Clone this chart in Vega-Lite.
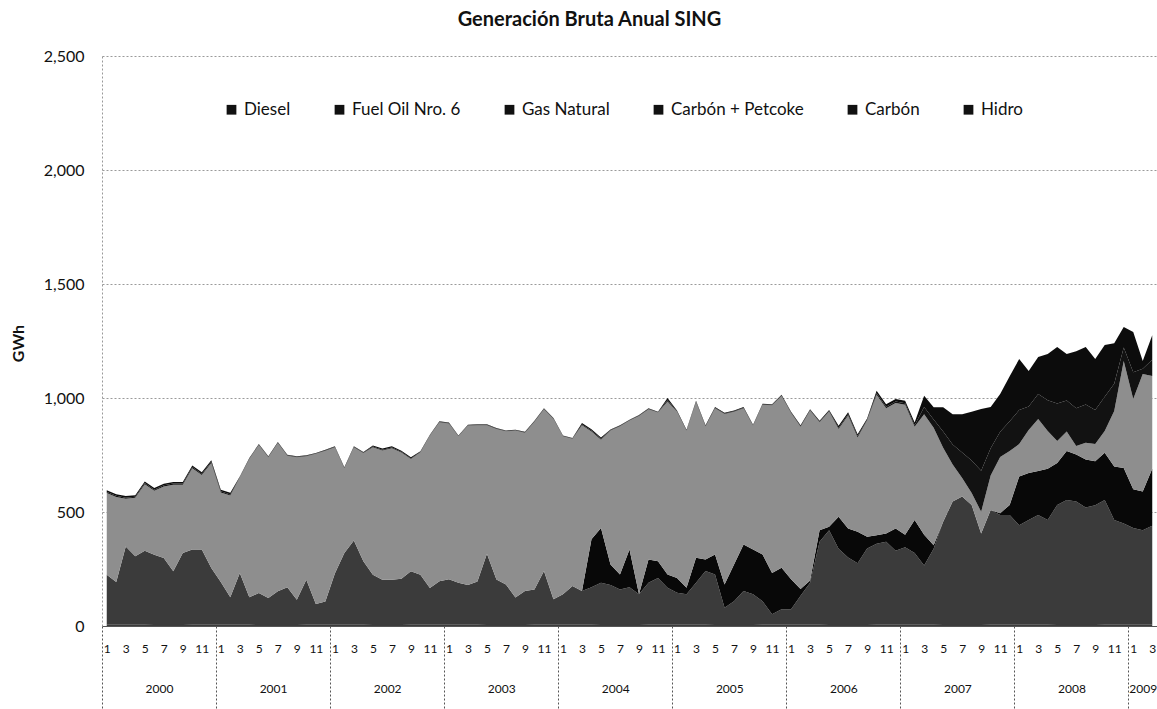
{
  "$schema": "https://vega.github.io/schema/vega-lite/v6.json",
  "autosize": "none",
  "width": 1055,
  "height": 570,
  "padding": {"left": 102, "top": 56, "right": 0, "bottom": 83},
  "background": "white",
  "config": {"font": "Lato", "view": {"stroke": null}},
  "title": {"text": "Generación Bruta Anual SING", "fontSize": 20, "fontWeight": "bold", "font": "Lato", "color": "#111", "dx": -40, "offset": 18},
  "data": {"values": [
    {"i":0,"hidro":6,"carbon":219,"petcoke":0,"gas":358,"fueloil":5,"diesel":7},
    {"i":1,"hidro":6,"carbon":187,"petcoke":0,"gas":373,"fueloil":5,"diesel":7},
    {"i":2,"hidro":5,"carbon":344,"petcoke":0,"gas":209,"fueloil":5,"diesel":7},
    {"i":3,"hidro":5,"carbon":301,"petcoke":0,"gas":256,"fueloil":5,"diesel":7},
    {"i":4,"hidro":5,"carbon":325,"petcoke":0,"gas":292,"fueloil":5,"diesel":7},
    {"i":5,"hidro":4,"carbon":309,"petcoke":0,"gas":280,"fueloil":5,"diesel":7},
    {"i":6,"hidro":4,"carbon":294,"petcoke":0,"gas":314,"fueloil":5,"diesel":7},
    {"i":7,"hidro":4,"carbon":236,"petcoke":0,"gas":380,"fueloil":5,"diesel":7},
    {"i":8,"hidro":4,"carbon":316,"petcoke":0,"gas":300,"fueloil":5,"diesel":7},
    {"i":9,"hidro":5,"carbon":330,"petcoke":0,"gas":357,"fueloil":5,"diesel":7},
    {"i":10,"hidro":5,"carbon":330,"petcoke":0,"gas":327,"fueloil":5,"diesel":7},
    {"i":11,"hidro":6,"carbon":248,"petcoke":0,"gas":461,"fueloil":5,"diesel":7},
    {"i":12,"hidro":6,"carbon":187,"petcoke":0,"gas":393,"fueloil":5,"diesel":7},
    {"i":13,"hidro":6,"carbon":120,"petcoke":0,"gas":446,"fueloil":5,"diesel":7},
    {"i":14,"hidro":5,"carbon":227,"petcoke":0,"gas":420,"fueloil":2,"diesel":2},
    {"i":15,"hidro":5,"carbon":121,"petcoke":0,"gas":607,"fueloil":2,"diesel":2},
    {"i":16,"hidro":4,"carbon":141,"petcoke":0,"gas":649,"fueloil":2,"diesel":2},
    {"i":17,"hidro":4,"carbon":119,"petcoke":0,"gas":617,"fueloil":2,"diesel":2},
    {"i":18,"hidro":4,"carbon":148,"petcoke":0,"gas":651,"fueloil":2,"diesel":2},
    {"i":19,"hidro":4,"carbon":166,"petcoke":0,"gas":577,"fueloil":2,"diesel":2},
    {"i":20,"hidro":4,"carbon":111,"petcoke":0,"gas":625,"fueloil":2,"diesel":2},
    {"i":21,"hidro":5,"carbon":198,"petcoke":0,"gas":542,"fueloil":2,"diesel":2},
    {"i":22,"hidro":5,"carbon":91,"petcoke":0,"gas":659,"fueloil":2,"diesel":2},
    {"i":23,"hidro":6,"carbon":102,"petcoke":0,"gas":661,"fueloil":2,"diesel":2},
    {"i":24,"hidro":6,"carbon":224,"petcoke":0,"gas":554,"fueloil":2,"diesel":2},
    {"i":25,"hidro":6,"carbon":314,"petcoke":0,"gas":372,"fueloil":2,"diesel":2},
    {"i":26,"hidro":5,"carbon":370,"petcoke":0,"gas":409,"fueloil":2,"diesel":2},
    {"i":27,"hidro":5,"carbon":279,"petcoke":0,"gas":475,"fueloil":2,"diesel":2},
    {"i":28,"hidro":4,"carbon":221,"petcoke":0,"gas":559,"fueloil":3,"diesel":5},
    {"i":29,"hidro":4,"carbon":199,"petcoke":0,"gas":567,"fueloil":3,"diesel":5},
    {"i":30,"hidro":4,"carbon":199,"petcoke":0,"gas":577,"fueloil":3,"diesel":5},
    {"i":31,"hidro":4,"carbon":203,"petcoke":0,"gas":554,"fueloil":3,"diesel":5},
    {"i":32,"hidro":5,"carbon":235,"petcoke":0,"gas":492,"fueloil":3,"diesel":5},
    {"i":33,"hidro":5,"carbon":220,"petcoke":0,"gas":537,"fueloil":2,"diesel":2},
    {"i":34,"hidro":5,"carbon":162,"petcoke":0,"gas":668,"fueloil":2,"diesel":2},
    {"i":35,"hidro":6,"carbon":190,"petcoke":0,"gas":698,"fueloil":2,"diesel":2},
    {"i":36,"hidro":6,"carbon":199,"petcoke":0,"gas":683,"fueloil":2,"diesel":2},
    {"i":37,"hidro":6,"carbon":184,"petcoke":0,"gas":642,"fueloil":2,"diesel":2},
    {"i":38,"hidro":5,"carbon":175,"petcoke":0,"gas":699,"fueloil":2,"diesel":2},
    {"i":39,"hidro":5,"carbon":190,"petcoke":0,"gas":686,"fueloil":2,"diesel":2},
    {"i":40,"hidro":4,"carbon":313,"petcoke":0,"gas":564,"fueloil":2,"diesel":2},
    {"i":41,"hidro":4,"carbon":200,"petcoke":0,"gas":660,"fueloil":2,"diesel":2},
    {"i":42,"hidro":4,"carbon":178,"petcoke":0,"gas":672,"fueloil":2,"diesel":2},
    {"i":43,"hidro":4,"carbon":121,"petcoke":0,"gas":732,"fueloil":2,"diesel":2},
    {"i":44,"hidro":4,"carbon":149,"petcoke":0,"gas":695,"fueloil":2,"diesel":2},
    {"i":45,"hidro":5,"carbon":155,"petcoke":0,"gas":736,"fueloil":2,"diesel":2},
    {"i":46,"hidro":5,"carbon":236,"petcoke":0,"gas":710,"fueloil":2,"diesel":2},
    {"i":47,"hidro":6,"carbon":111,"petcoke":0,"gas":791,"fueloil":2,"diesel":2},
    {"i":48,"hidro":6,"carbon":133,"petcoke":0,"gas":693,"fueloil":2,"diesel":2},
    {"i":49,"hidro":6,"carbon":169,"petcoke":0,"gas":646,"fueloil":2,"diesel":2},
    {"i":50,"hidro":5,"carbon":148,"petcoke":0,"gas":727,"fueloil":4,"diesel":6},
    {"i":51,"hidro":5,"carbon":165,"petcoke":210,"gas":473,"fueloil":4,"diesel":6},
    {"i":52,"hidro":4,"carbon":186,"petcoke":240,"gas":387,"fueloil":4,"diesel":6},
    {"i":53,"hidro":4,"carbon":176,"petcoke":90,"gas":588,"fueloil":2,"diesel":2},
    {"i":54,"hidro":4,"carbon":156,"petcoke":66,"gas":650,"fueloil":2,"diesel":2},
    {"i":55,"hidro":4,"carbon":166,"petcoke":166,"gas":565,"fueloil":2,"diesel":2},
    {"i":56,"hidro":4,"carbon":135,"petcoke":0,"gas":782,"fueloil":2,"diesel":2},
    {"i":57,"hidro":5,"carbon":185,"petcoke":102,"gas":659,"fueloil":2,"diesel":2},
    {"i":58,"hidro":5,"carbon":206,"petcoke":73,"gas":652,"fueloil":2,"diesel":2},
    {"i":59,"hidro":6,"carbon":162,"petcoke":58,"gas":759,"fueloil":6,"diesel":9},
    {"i":60,"hidro":6,"carbon":140,"petcoke":65,"gas":729,"fueloil":2,"diesel":3},
    {"i":61,"hidro":6,"carbon":133,"petcoke":29,"gas":688,"fueloil":2,"diesel":3},
    {"i":62,"hidro":5,"carbon":185,"petcoke":109,"gas":684,"fueloil":2,"diesel":3},
    {"i":63,"hidro":5,"carbon":236,"petcoke":51,"gas":583,"fueloil":2,"diesel":3},
    {"i":64,"hidro":4,"carbon":222,"petcoke":88,"gas":641,"fueloil":2,"diesel":3},
    {"i":65,"hidro":4,"carbon":76,"petcoke":102,"gas":748,"fueloil":2,"diesel":3},
    {"i":66,"hidro":4,"carbon":105,"petcoke":161,"gas":670,"fueloil":2,"diesel":3},
    {"i":67,"hidro":4,"carbon":149,"petcoke":204,"gas":598,"fueloil":2,"diesel":3},
    {"i":68,"hidro":4,"carbon":135,"petcoke":197,"gas":542,"fueloil":2,"diesel":3},
    {"i":69,"hidro":5,"carbon":104,"petcoke":205,"gas":656,"fueloil":2,"diesel":3},
    {"i":70,"hidro":5,"carbon":46,"petcoke":182,"gas":735,"fueloil":2,"diesel":3},
    {"i":71,"hidro":6,"carbon":67,"petcoke":182,"gas":754,"fueloil":2,"diesel":3},
    {"i":72,"hidro":6,"carbon":68,"petcoke":131,"gas":729,"fueloil":2,"diesel":4},
    {"i":73,"hidro":6,"carbon":127,"petcoke":29,"gas":712,"fueloil":2,"diesel":4},
    {"i":74,"hidro":5,"carbon":185,"petcoke":10,"gas":745,"fueloil":2,"diesel":4},
    {"i":75,"hidro":5,"carbon":364,"petcoke":51,"gas":474,"fueloil":2,"diesel":4},
    {"i":76,"hidro":4,"carbon":416,"petcoke":15,"gas":506,"fueloil":2,"diesel":4},
    {"i":77,"hidro":4,"carbon":335,"petcoke":140,"gas":385,"fueloil":6,"diesel":8},
    {"i":78,"hidro":4,"carbon":296,"petcoke":128,"gas":495,"fueloil":6,"diesel":8},
    {"i":79,"hidro":4,"carbon":271,"petcoke":138,"gas":414,"fueloil":6,"diesel":8},
    {"i":80,"hidro":4,"carbon":336,"petcoke":51,"gas":511,"fueloil":3,"diesel":5},
    {"i":81,"hidro":5,"carbon":356,"petcoke":37,"gas":616,"fueloil":7,"diesel":11},
    {"i":82,"hidro":5,"carbon":365,"petcoke":36,"gas":549,"fueloil":7,"diesel":11},
    {"i":83,"hidro":6,"carbon":324,"petcoke":98,"gas":550,"fueloil":7,"diesel":11},
    {"i":84,"hidro":6,"carbon":339,"petcoke":55,"gas":570,"fueloil":7,"diesel":11},
    {"i":85,"hidro":6,"carbon":314,"petcoke":145,"gas":409,"fueloil":7,"diesel":11},
    {"i":86,"hidro":5,"carbon":260,"petcoke":135,"gas":529,"fueloil":32,"diesel":49},
    {"i":87,"hidro":5,"carbon":334,"petcoke":15,"gas":516,"fueloil":36,"diesel":53},
    {"i":88,"hidro":4,"carbon":453,"petcoke":0,"gas":325,"fueloil":71,"diesel":106},
    {"i":89,"hidro":4,"carbon":542,"petcoke":0,"gas":162,"fueloil":88,"diesel":133},
    {"i":90,"hidro":4,"carbon":564,"petcoke":0,"gas":81,"fueloil":112,"diesel":168},
    {"i":91,"hidro":4,"carbon":527,"petcoke":0,"gas":52,"fueloil":143,"diesel":214},
    {"i":92,"hidro":4,"carbon":402,"petcoke":0,"gas":95,"fueloil":180,"diesel":271},
    {"i":93,"hidro":5,"carbon":504,"petcoke":0,"gas":151,"fueloil":120,"diesel":180},
    {"i":94,"hidro":5,"carbon":482,"petcoke":8,"gas":246,"fueloil":111,"diesel":166},
    {"i":95,"hidro":6,"carbon":481,"petcoke":44,"gas":236,"fueloil":131,"diesel":197},
    {"i":96,"hidro":6,"carbon":436,"petcoke":214,"gas":142,"fueloil":149,"diesel":224},
    {"i":97,"hidro":6,"carbon":459,"petcoke":206,"gas":189,"fueloil":103,"diesel":155},
    {"i":98,"hidro":5,"carbon":482,"petcoke":193,"gas":228,"fueloil":109,"diesel":163},
    {"i":99,"hidro":5,"carbon":460,"petcoke":225,"gas":165,"fueloil":135,"diesel":203},
    {"i":100,"hidro":4,"carbon":527,"petcoke":184,"gas":96,"fueloil":165,"diesel":248},
    {"i":101,"hidro":4,"carbon":549,"petcoke":214,"gas":86,"fueloil":136,"diesel":204},
    {"i":102,"hidro":4,"carbon":542,"petcoke":206,"gas":37,"fueloil":166,"diesel":250},
    {"i":103,"hidro":4,"carbon":516,"petcoke":210,"gas":74,"fueloil":168,"diesel":252},
    {"i":104,"hidro":4,"carbon":526,"petcoke":193,"gas":75,"fueloil":149,"diesel":224},
    {"i":105,"hidro":5,"carbon":548,"petcoke":207,"gas":95,"fueloil":151,"diesel":227},
    {"i":106,"hidro":5,"carbon":460,"petcoke":235,"gas":243,"fueloil":119,"diesel":178},
    {"i":107,"hidro":6,"carbon":444,"petcoke":243,"gas":469,"fueloil":60,"diesel":89},
    {"i":108,"hidro":6,"carbon":424,"petcoke":170,"gas":396,"fueloil":117,"diesel":176},
    {"i":109,"hidro":6,"carbon":414,"petcoke":170,"gas":515,"fueloil":23,"diesel":34},
    {"i":110,"hidro":5,"carbon":435,"petcoke":250,"gas":406,"fueloil":72,"diesel":107}
  ]},
  "layer": [
    {
      "transform": [
        {"fold": ["hidro", "carbon", "petcoke", "gas", "fueloil", "diesel"], "as": ["fuente", "gwh"]},
        {"calculate": "indexof(['hidro','carbon','petcoke','gas','fueloil','diesel'], datum.fuente)", "as": "orden"}
      ],
      "mark": {"type": "area", "interpolate": "linear"},
      "encoding": {
        "x": {
          "field": "i", "type": "quantitative",
          "scale": {"domain": [-0.5, 110.5], "nice": false, "zero": false},
          "axis": {
            "orient": "bottom", "title": null,
            "values": [0,2,4,6,8,10,12,14,16,18,20,22,24,26,28,30,32,34,36,38,40,42,44,46,48,50,52,54,56,58,60,62,64,66,68,70,72,74,76,78,80,82,84,86,88,90,92,94,96,98,100,102,104,106,108,110],
            "labelExpr": "datum.value % 12 + 1",
            "ticks": false, "grid": false,
            "domain": true, "domainColor": "#555", "domainWidth": 1,
            "labelPadding": 17, "labelFontSize": 12, "labelColor": "#111", "labelFont": "Lato",
            "labelAngle": 0, "labelFlush": false, "labelOverlap": false
          }
        },
        "y": {
          "field": "gwh", "type": "quantitative", "stack": "zero",
          "scale": {"domain": [0, 2500], "nice": false},
          "axis": {
            "values": [0, 500, 1000, 1500, 2000, 2500],
            "labelExpr": "format(datum.value, ',.0f')",
            "title": "GWh", "titleFontSize": 16, "titleFontWeight": "bold", "titleFont": "Lato", "titleColor": "#111",
            "titleX": -84, "titleY": 287, "titleAngle": -90, "titleAlign": "center", "titleBaseline": "middle",
            "grid": true, "gridColor": "#9a9a9a", "gridDash": [2, 2], "gridWidth": 1,
            "ticks": false, "domain": true, "domainColor": "#999", "domainDash": [2, 2],
            "labelPadding": 18, "labelFontSize": 16, "labelColor": "#111", "labelFont": "Lato"
          }
        },
        "fill": {
          "field": "fuente", "type": "nominal",
          "scale": {
            "domain": ["hidro", "carbon", "petcoke", "gas", "fueloil", "diesel"],
            "range": ["#3b3b3b", "#3b3b3b", "#080808", "#8e8e8e", "#121212", "#0c0c0c"]
          },
          "legend": null
        },
        "order": {"field": "orden", "type": "quantitative"}
      }
    },
    {
      "transform": [
        {"fold": ["diesel", "fueloil", "gas", "petcoke", "carbon", "hidro"], "as": ["serie", "valor"]},
        {"filter": "false"}
      ],
      "mark": {"type": "square", "filled": true},
      "encoding": {
        "color": {
          "field": "serie", "type": "nominal",
          "scale": {
            "domain": ["diesel", "fueloil", "gas", "petcoke", "carbon", "hidro"],
            "range": ["#111111", "#111111", "#111111", "#111111", "#111111", "#111111"]
          },
          "legend": {
            "orient": "none", "legendX": 121, "legendY": 45, "direction": "horizontal",
            "title": null, "symbolType": "square", "symbolSize": 95, "symbolOpacity": 1,
            "labelFontSize": 17, "labelFont": "Lato", "labelColor": "#111",
            "columnPadding": 40, "labelOffset": 4,
            "labelExpr": "datum.label == 'diesel' ? 'Diesel' : datum.label == 'fueloil' ? 'Fuel Oil Nro. 6' : datum.label == 'gas' ? 'Gas Natural' : datum.label == 'petcoke' ? 'Carbón + Petcoke' : datum.label == 'carbon' ? 'Carbón' : 'Hidro'"
          }
        }
      }
    },
    {
      "mark": {"type": "tick", "opacity": 0},
      "encoding": {
        "x": {
          "field": "i", "type": "quantitative",
          "scale": {"domain": [-0.5, 110.5], "nice": false, "zero": false},
          "axis": {
            "orient": "bottom", "title": null,
            "values": [-0.5, 11.5, 23.5, 35.5, 47.5, 59.5, 71.5, 83.5, 95.5, 107.5],
            "ticks": true, "tickSize": 83, "tickColor": "#555", "tickDash": [2, 2], "tickWidth": 1,
            "labels": false, "domain": false, "grid": false
          }
        }
      }
    },
    {
      "mark": {"type": "tick", "opacity": 0},
      "encoding": {
        "x": {
          "field": "i", "type": "quantitative",
          "scale": {"domain": [-0.5, 110.5], "nice": false, "zero": false},
          "axis": {
            "orient": "bottom", "title": null,
            "values": [5.5, 17.5, 29.5, 41.5, 53.5, 65.5, 77.5, 89.5, 101.5, 109],
            "labelExpr": "toString(2000 + floor(datum.value / 12))",
            "ticks": false, "domain": false, "grid": false,
            "labelPadding": 57, "labelFontSize": 12, "labelColor": "#111", "labelFont": "Lato",
            "labelFlush": false, "labelOverlap": false
          }
        }
      }
    }
  ],
  "resolve": {"axis": {"x": "independent"}}
}
